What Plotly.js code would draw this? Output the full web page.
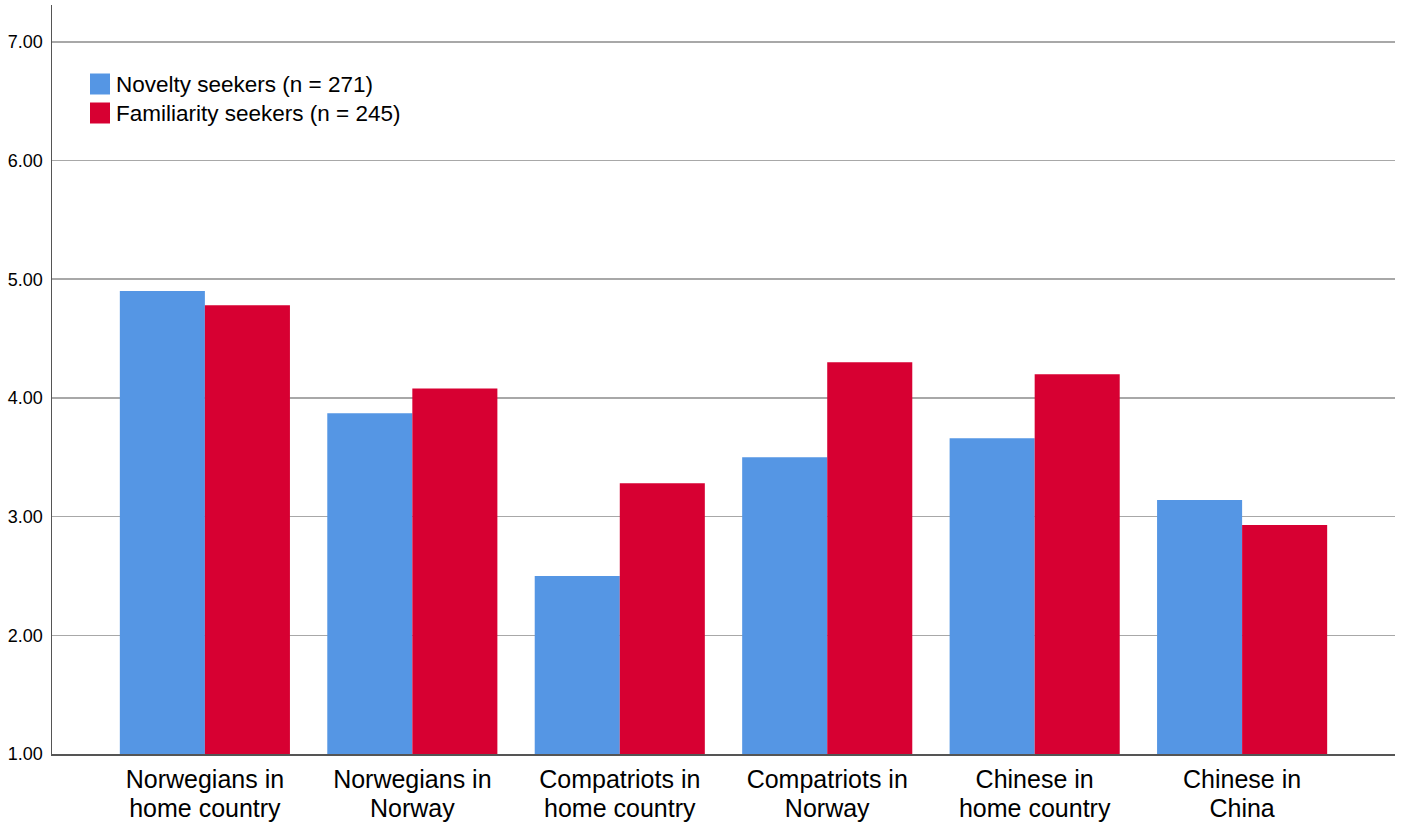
<!DOCTYPE html>
<html><head><meta charset="utf-8">
<script src="https://cdn.plot.ly/plotly-3.0.1.min.js"></script>
<style>html,body{margin:0;padding:0;background:#fff}</style>
</head><body>
<div id="chart" style="width:1404px;height:831px"></div>
<script>
const categories = ["Norwegians in|home country","Norwegians in|Norway","Compatriots in|home country","Compatriots in|Norway","Chinese in|home country","Chinese in|China"];
const noveltyValues = [4.90, 3.87, 2.50, 3.50, 3.66, 3.14];
const familiarityValues = [4.78, 4.08, 3.28, 4.30, 4.20, 2.93];
const seriesNames = ["Novelty seekers (n = 271)", "Familiarity seekers (n = 245)"];
const seriesColors = ['#5596E4', '#D70032'];
const yTicks = [1,2,3,4,5,6,7];
const yTickLabels = ["1.00","2.00","3.00","4.00","5.00","6.00","7.00"];
const yBase = 1;

const idx = categories.map((c,i)=>i);
const line1 = categories.map(c=>c.split('|')[0]);
const line2 = categories.map(c=>c.split('|')[1]);

const traces = [noveltyValues, familiarityValues].map((vals,k)=>({
  type:'bar', x:idx, y:vals.map(v=>v-yBase), base:yBase, name:seriesNames[k],
  marker:{color:seriesColors[k], line:{width:0}}, hoverinfo:'skip', showlegend:false
}));

// custom legend (square swatches like the reference)
const plotL=52, plotW=1343, plotT=5, plotH=749;
const px = v=>(v-plotL)/plotW, py = v=>(plotT+plotH-v)/plotH;
const shapes=[], annotations=[];
seriesNames.forEach((n,k)=>{
  const cy = 84 + k*29;
  shapes.push({type:'rect', xref:'paper', yref:'paper', x0:px(90), x1:px(110), y0:py(cy-10.5), y1:py(cy+10.5),
               fillcolor:seriesColors[k], line:{width:0}});
  annotations.push({xref:'paper', yref:'paper', x:px(114), y:py(cy+1), xanchor:'left', yanchor:'middle',
               text:n, showarrow:false, font:{size:22.5, color:'#000'}});
});

const layout = {
  width:1404, height:831,
  margin:{l:52, r:9, t:5, b:77},
  paper_bgcolor:'#fff', plot_bgcolor:'#fff',
  font:{family:'Liberation Sans, Arial, sans-serif', color:'#000'},
  barmode:'group', bargap:0.18, bargroupgap:0,
  showlegend:false,
  shapes, annotations,
  xaxis:{type:'linear', range:[-0.737,5.737], tickvals:idx, ticktext:line1, showline:true, linecolor:'#555', linewidth:1.5,
         showgrid:false, ticks:'', tickfont:{size:25, color:'#000'}, ticklabelstandoff:2,
         zeroline:false, fixedrange:true},
  xaxis2:{type:'linear', overlaying:'x', matches:'x', anchor:'y', side:'bottom', range:[-0.737,5.737],
         tickvals:idx, ticktext:line2, showline:false, showgrid:false, ticks:'',
         tickfont:{size:25, color:'#000'}, ticklabelstandoff:37, zeroline:false},
  yaxis:{range:[1,7.31], tickvals:yTicks, ticktext:yTickLabels, showline:true,
         linecolor:'#555', linewidth:1.5, showgrid:true, gridcolor:'#a8a8a8', gridwidth:1.5,
         ticks:'', tickfont:{size:18, color:'#000'}, ticklabelstandoff:4, zeroline:false}
};
traces.push({type:'scatter', x:[0], y:[1], xaxis:'x2', mode:'none', hoverinfo:'skip', showlegend:false});
Plotly.newPlot('chart', traces, layout, {displayModeBar:false, staticPlot:true});
</script>
</body></html>
